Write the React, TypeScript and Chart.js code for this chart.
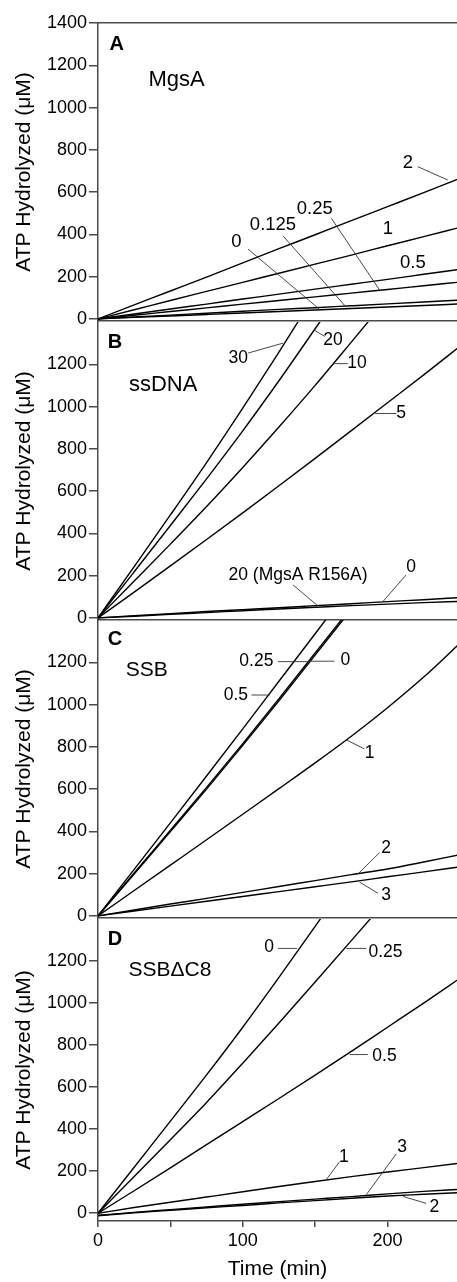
import React, { useEffect, useRef } from "react";
import { Chart, registerables } from "chart.js";

Chart.register(...registerables);

// ---------- data ----------
const timeMin = [0, 25, 50, 75, 100, 125, 150, 175, 200, 225, 250];

// Panel A: MgsA concentration series
const mgsA_2 = [0, 66, 132, 198, 265, 332, 398, 465, 531, 597, 665];
const mgsA_1 = [0, 43, 87, 130, 173, 216, 259, 302, 346, 389, 433];
const mgsA_05 = [0, 23, 47, 70, 94, 117, 141, 164, 187, 211, 234];
const mgsA_025 = [0, 17, 35, 52, 70, 87, 104, 122, 139, 157, 174];
const mgsA_0125 = [0, 9, 18, 27, 36, 45, 53, 62, 71, 80, 89];
const mgsA_0 = [0, 7, 14, 21, 28, 35, 42, 49, 56, 63, 71];

// Panel B: ssDNA series
const ssDNA_30 = [0, 243, 487, 735, 992, 1258, 1530];
const ssDNA_20 = [0, 218, 437, 658, 885, 1122, 1368, 1615];
const ssDNA_10 = [0, 174, 349, 527, 712, 903, 1100, 1305, 1512];
const ssDNA_5 = [0, 122, 246, 371, 497, 625, 755, 886, 1018, 1150, 1285];
const ssDNA_0 = [0, 10, 20, 30, 39, 48, 58, 67, 77, 86, 96];
const ssDNA_20R156A = [0, 8, 17, 25, 34, 42, 50, 58, 65, 72, 78];

// Panel C: SSB series
const ssb_05 = [0, 220, 440, 662, 885, 1110, 1335, 1560];
const ssb_025 = [0, 203, 405, 608, 815, 1028, 1244, 1460];
const ssb_0 = [0, 198, 399, 600, 807, 1018, 1234, 1450];
const ssb_1 = [0, 120, 240, 360, 481, 602, 724, 850, 985, 1130, 1290];
const ssb_2 = [0, 28, 56, 83, 111, 139, 167, 195, 222, 255, 290];
const ssb_3 = [0, 23, 46, 69, 92, 115, 138, 161, 185, 208, 232];

// Panel D: SSBΔC8 series
const ssbC8_0 = [0, 219, 438, 658, 885, 1122, 1365, 1610];
const ssbC8_025 = [0, 175, 350, 527, 714, 905, 1100, 1297, 1495];
const ssbC8_05 = [0, 107, 216, 326, 436, 546, 657, 770, 885, 1000, 1118];
const ssbC8_1 = [0, 27, 52, 77, 102, 127, 151, 174, 196, 217, 238];
const ssbC8_3 = [-10, 4, 17, 30, 43, 55, 67, 79, 92, 104, 114];
const ssbC8_2 = [-12, 2, 14, 26, 37, 49, 60, 71, 82, 90, 98];

const yTicksTop = [0, 200, 400, 600, 800, 1000, 1200, 1400];
const yTicksLower = [0, 200, 400, 600, 800, 1000, 1200];
const xTicks = [0, 50, 100, 150, 200];
const xTickLabels = ["0", "", "100", "", "200"];

const yTitle = "ATP Hydrolyzed (μM)";
const xTitle = "Time (min)";

// ---------- styling ----------
const SANS = "'Liberation Sans', Arial, sans-serif";
const AXIS = "#4a4a4a";
const TEXT = "#000";

const fLetter = `bold 20px ${SANS}`;
const fNameA = `22px ${SANS}`;
const fNameN = `21px ${SANS}`;
const fLabA = `18.5px ${SANS}`;
const fLabN = `17.5px ${SANS}`;

type Note = { text: string; x: number; y: number; font: string; leader?: number[] };

type PanelCfg = {
  id: string;
  top: number;
  height: number;
  padTop: number;
  padBottom: number;
  yMin: number;
  yTicks: number[];
  bottomAxis: boolean;
  topBorder: boolean;
  series: number[][];
  notes: Note[];
};

const panels: PanelCfg[] = [
  {
    id: "A", top: 0, height: 341, padTop: 23, padBottom: 20, yMin: -10,
    yTicks: yTicksTop, bottomAxis: false, topBorder: true,
    series: [mgsA_2, mgsA_1, mgsA_05, mgsA_025, mgsA_0125, mgsA_0],
    notes: [
      { text: "A", x: 12.9, y: 1296, font: fLetter },
      { text: "MgsA", x: 54.3, y: 1130, font: fNameA },
      { text: "2", x: 214, y: 736, font: fLabA, leader: [220.9, 720, 241.6, 657] },
      { text: "1", x: 200.2, y: 424, font: fLabA },
      { text: "0.5", x: 217.5, y: 263, font: fLabA },
      { text: "0.25", x: 149.7, y: 519, font: fLabA, leader: [161.2, 476, 194.5, 137] },
      { text: "0.125", x: 120.9, y: 445, font: fLabA, leader: [127.8, 393, 171.5, 55] },
      { text: "0", x: 95.6, y: 366, font: fLabA, leader: [103.7, 330, 153.1, 45] },
    ],
  },
  {
    id: "B", top: 302, height: 338, padTop: 20, padBottom: 20, yMin: -10,
    yTicks: yTicksLower, bottomAxis: false, topBorder: false,
    series: [ssDNA_30, ssDNA_20, ssDNA_10, ssDNA_5, ssDNA_0, ssDNA_20R156A],
    notes: [
      { text: "B", x: 11.7, y: 1305, font: fLetter },
      { text: "ssDNA", x: 45, y: 1100, font: fNameA },
      { text: "30", x: 96.8, y: 1227, font: fLabN, leader: [103.7, 1253, 127.8, 1300] },
      { text: "20", x: 162.3, y: 1316, font: fLabN, leader: [156.6, 1332, 149.7, 1360] },
      { text: "10", x: 178.9, y: 1203, font: fLabN, leader: [172.6, 1203, 163.4, 1203] },
      { text: "5", x: 209.4, y: 967, font: fLabN, leader: [206, 967, 191.5, 967] },
      { text: "20 (MgsA R156A)", x: 138.2, y: 203, font: fLabN, leader: [134.7, 156, 151.9, 57] },
      { text: "0", x: 216.3, y: 242, font: fLabN, leader: [212.8, 203, 196.8, 77] },
    ],
  },
  {
    id: "C", top: 600, height: 338, padTop: 20, padBottom: 20, yMin: -10,
    yTicks: yTicksLower, bottomAxis: false, topBorder: false,
    series: [ssb_05, ssb_025, ssb_0, ssb_1, ssb_2, ssb_3],
    notes: [
      { text: "C", x: 11.7, y: 1306, font: fLetter },
      { text: "SSB", x: 33.6, y: 1164, font: fNameN },
      { text: "0.25", x: 109.4, y: 1203, font: fLabN, leader: [124.4, 1203, 146.5, 1203] },
      { text: "0", x: 170.8, y: 1211, font: fLabN, leader: [163.4, 1205, 146.5, 1205] },
      { text: "0.5", x: 95.2, y: 1042, font: fLabN, leader: [106, 1045, 118.6, 1045] },
      { text: "1", x: 187.6, y: 770, font: fLabN, leader: [184.1, 790, 171.5, 833] },
      { text: "2", x: 199.1, y: 320, font: fLabN, leader: [194.5, 299, 179.5, 198] },
      { text: "3", x: 199.1, y: 99, font: fLabN, leader: [193.3, 107, 180.7, 160] },
    ],
  },
  {
    id: "D", top: 899, height: 383, padTop: 20, padBottom: 0, yMin: -37,
    yTicks: yTicksLower, bottomAxis: true, topBorder: false,
    series: [ssbC8_0, ssbC8_025, ssbC8_05, ssbC8_1, ssbC8_3, ssbC8_2],
    notes: [
      { text: "D", x: 11.7, y: 1303, font: fLetter },
      { text: "SSBΔC8", x: 49.7, y: 1157, font: fNameN },
      { text: "0", x: 118.2, y: 1268, font: fLabN, leader: [124.4, 1260, 137.5, 1260] },
      { text: "0.25", x: 198.6, y: 1244, font: fLabN, leader: [185.3, 1260, 171.5, 1260] },
      { text: "0.5", x: 197.9, y: 748, font: fLabN, leader: [186.4, 755, 173.8, 755] },
      { text: "1", x: 169.9, y: 269, font: fLabN, leader: [166.9, 245, 157.7, 160] },
      { text: "3", x: 210.1, y: 314, font: fLabN, leader: [206, 282, 185.3, 88] },
      { text: "2", x: 232.4, y: 31, font: fLabN, leader: [226.7, 47, 210.6, 80] },
    ],
  },
];

const X_MAX = 248;

function Panel({ cfg }: { cfg: PanelCfg }) {
  const ref = useRef<HTMLCanvasElement>(null);

  useEffect(() => {
    const canvas = ref.current;
    if (!canvas) return;

    const notesPlugin = {
      id: "notes" + cfg.id,
      afterDraw(chart: any) {
        const { ctx } = chart;
        const xs = chart.scales.x;
        const ys = chart.scales.y;
        ctx.save();
        for (const n of cfg.notes) {
          if (n.leader) {
            ctx.beginPath();
            ctx.moveTo(xs.getPixelForValue(n.leader[0]), ys.getPixelForValue(n.leader[1]));
            ctx.lineTo(xs.getPixelForValue(n.leader[2]), ys.getPixelForValue(n.leader[3]));
            ctx.strokeStyle = "#333";
            ctx.lineWidth = 0.9;
            ctx.stroke();
          }
          ctx.font = n.font;
          ctx.fillStyle = TEXT;
          ctx.textAlign = "center";
          ctx.textBaseline = "middle";
          ctx.fillText(n.text, xs.getPixelForValue(n.x), ys.getPixelForValue(n.y));
        }
        ctx.restore();
      },
    };

    const scales: any = {
      x: cfg.bottomAxis
        ? {
            type: "linear",
            position: "bottom",
            min: 0,
            max: X_MAX,
            afterBuildTicks: (s: any) => {
              s.ticks = xTicks.map((v) => ({ value: v }));
            },
            ticks: {
              autoSkip: false,
              maxRotation: 0,
              padding: 3,
              color: TEXT,
              font: { family: SANS, size: 18 },
              callback: (_v: any, i: number) => xTickLabels[i],
            },
            grid: { drawOnChartArea: false, drawTicks: true, tickLength: 6, color: AXIS, lineWidth: 1.5 },
            border: { display: true, color: AXIS, width: 1.5 },
            title: {
              display: true,
              text: xTitle,
              color: TEXT,
              font: { family: SANS, size: 21 },
              padding: { top: 0, bottom: 0 },
            },
            afterFit: (s: any) => {
              s.height = 61;
            },
          }
        : {
            type: "linear",
            position: "bottom",
            min: 0,
            max: X_MAX,
            ticks: { display: false },
            grid: { drawOnChartArea: false, drawTicks: false, color: AXIS },
            border: { display: true, color: AXIS, width: 1.5 },
            afterFit: (s: any) => {
              s.height = 0;
            },
          },
      y: {
        type: "linear",
        position: "left",
        min: cfg.yMin,
        max: 1400,
        afterBuildTicks: (s: any) => {
          s.ticks = cfg.yTicks.map((v) => ({ value: v }));
        },
        ticks: {
          autoSkip: false,
          padding: 2,
          color: TEXT,
          font: { family: SANS, size: 18 },
          callback: (v: any) => String(v),
        },
        grid: { drawOnChartArea: false, drawTicks: true, tickLength: 9, color: AXIS, lineWidth: 1.5 },
        border: { display: true, color: AXIS, width: 1.5 },
        title: {
          display: true,
          text: yTitle,
          color: TEXT,
          font: { family: SANS, size: 21 },
          padding: { top: 12, bottom: 0 },
        },
        afterFit: (s: any) => {
          s.width = 98;
        },
      },
    };

    if (cfg.topBorder) {
      scales.x2 = {
        type: "linear",
        position: "top",
        min: 0,
        max: X_MAX,
        ticks: { display: false },
        grid: { drawOnChartArea: false, drawTicks: false, color: AXIS },
        border: { display: true, color: AXIS, width: 1.5 },
        afterFit: (s: any) => {
          s.height = 0;
        },
      };
    }

    const chart = new Chart(canvas, {
      type: "line",
      data: {
        datasets: cfg.series.map((vals, k) => ({
          label: cfg.id + k,
          data: vals.map((v, i) => ({ x: timeMin[i], y: v })),
          borderColor: "#000",
          borderWidth: 1.4,
          pointRadius: 0,
          fill: false,
          cubicInterpolationMode: "monotone",
          xAxisID: "x",
          yAxisID: "y",
        })),
      },
      options: {
        animation: false,
        responsive: false,
        maintainAspectRatio: false,
        devicePixelRatio: 1,
        layout: { padding: { top: cfg.padTop, bottom: cfg.padBottom, left: 0, right: 0 } },
        plugins: { legend: { display: false }, tooltip: { enabled: false } },
        scales,
      },
      plugins: [notesPlugin],
    } as any);

    return () => chart.destroy();
  }, [cfg]);

  return (
    <canvas
      ref={ref}
      width={457}
      height={cfg.height}
      style={{ position: "absolute", left: 0, top: cfg.top, width: 457, height: cfg.height }}
    />
  );
}

export default function App() {
  return (
    <div
      style={{
        position: "absolute",
        left: 0,
        top: 0,
        width: 457,
        height: 1282,
        overflow: "hidden",
        background: "#fff",
      }}
    >
      {panels.map((p) => (
        <Panel key={p.id} cfg={p} />
      ))}
    </div>
  );
}
